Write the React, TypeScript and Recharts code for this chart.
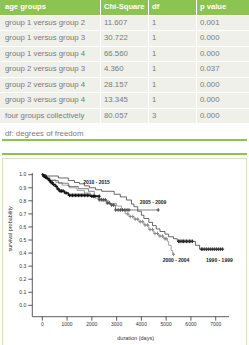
import React from 'react'
import {
  ComposedChart,
  Line,
  Scatter,
  XAxis,
  YAxis,
  ReferenceDot,
} from 'recharts'

// Log-rank comparisons between the four age groups
const tableHeader = ['age groups', 'Chi-Square', 'df', 'p value']
const comparisons = [
  'group 1 versus group 2',
  'group 1 versus group 3',
  'group 1 versus group 4',
  'group 2 versus group 3',
  'group 2 versus group 4',
  'group 3 versus group 4',
  'four groups collectively',
]
const chiSquare = ['11.607', '30.722', '66.560', '4.360', '28.157', '13.345', '80.057']
const degrees = ['1', '1', '1', '1', '1', '1', '3']
const pValues = ['0.001', '0.000', '0.000', '0.037', '0.000', '0.000', '0.000']

// Kaplan-Meier steps per era: [day, survival]
const steps1990: [number, number][] = [
  [0, 1.0], [150, 0.99], [650, 0.975], [1050, 0.955], [1300, 0.94], [1500, 0.93],
  [1700, 0.915], [1900, 0.9], [2150, 0.885], [2400, 0.873], [2900, 0.85], [3150, 0.83],
  [3400, 0.806], [3600, 0.775], [3700, 0.755], [3850, 0.72], [4000, 0.69], [4100, 0.665],
  [4300, 0.635], [4450, 0.61], [4600, 0.585], [4750, 0.565], [4950, 0.545], [5100, 0.525],
  [5300, 0.51], [5450, 0.49], [6180, 0.46], [6350, 0.43], [7280, 0.43],
]
const censored1990 = [
  5500, 5550, 5600, 5650, 5700, 5760, 5820, 5880, 5940, 6000, 6060,
  6420, 6480, 6560, 6640, 6720, 6800, 6880, 6960, 7040, 7120, 7200, 7280,
]

const steps2000: [number, number][] = [
  [0, 1.0], [100, 0.98], [300, 0.96], [550, 0.94], [800, 0.92], [1100, 0.9], [1400, 0.88],
  [1700, 0.86], [1950, 0.84], [2150, 0.82], [2400, 0.8], [2700, 0.78], [3000, 0.76],
  [3200, 0.73], [3350, 0.7], [3500, 0.68], [3700, 0.66], [3900, 0.64], [4100, 0.615],
  [4300, 0.58], [4500, 0.55], [4700, 0.53], [4900, 0.51], [5050, 0.49], [5100, 0.46],
  [5200, 0.42], [5260, 0.39], [5300, 0.39],
]
const censored2000 = [
  3450, 3550, 3650, 3750, 3850, 3950, 4050, 4150, 4250, 4350, 4450, 4550, 4650, 4750,
  4850, 4950, 5000, 5300,
]

const steps2005: [number, number][] = [
  [0, 1.0], [150, 0.97], [310, 0.955], [650, 0.935], [1050, 0.91], [1450, 0.893],
  [1860, 0.873], [2100, 0.84], [2260, 0.808], [2600, 0.783], [2750, 0.768], [2950, 0.73],
  [4680, 0.73],
]
const censored2005 = [
  2300, 2380, 2460, 2540, 2620, 2700, 2800, 2880, 2960, 3060, 3150, 3240, 3330, 3420, 3500, 4680,
]

const steps2010: [number, number][] = [
  [0, 1.0], [40, 0.99], [100, 0.98], [180, 0.97], [260, 0.955], [330, 0.94], [420, 0.925],
  [520, 0.91], [600, 0.89], [680, 0.875], [900, 0.86], [1050, 0.842], [1900, 0.842],
  [1950, 0.835], [2300, 0.835],
]
const censored2010 = [
  20, 60, 120, 160, 220, 300, 360, 400, 460, 560, 640, 720, 780, 840, 960, 1100, 1160,
  1220, 1280, 1340, 1400, 1460, 1520, 1580, 1640, 1700, 1760, 1820, 1880, 2000, 2060,
  2120, 2300,
]

const xTicks = [0, 1000, 2000, 3000, 4000, 5000, 6000, 7000]
const yTicks = [0, 0.1, 0.2, 0.3, 0.4, 0.5, 0.6, 0.7, 0.8, 0.9, 1.0]

// curve name labels: [text, day, survival]
const curveLabels: [string, number, number][] = [
  ['2010 - 2015', 2190, 0.946],
  ['2005 - 2009', 4470, 0.789],
  ['2000 - 2004', 5400, 0.342],
  ['1990 - 1999', 7150, 0.342],
]

const FONT = '"Liberation Sans", Arial, Helvetica, sans-serif'
const GREEN = '#8cc451'

const toPoints = (steps: [number, number][]) => steps.map(([t, s]) => ({ t, s }))

// survival level of a step curve at a given day
const levelAt = (steps: [number, number][], t: number) => {
  let s = steps[0][1]
  for (const [d, v] of steps) {
    if (d <= t) s = v
  }
  return s
}
const toMarks = (steps: [number, number][], days: number[]) =>
  days.map((t) => ({ t, s: levelAt(steps, t) }))

const series = [
  { name: '1990 - 1999', steps: steps1990, censored: censored1990, color: '#2a2a2a', width: 0.7 },
  { name: '2000 - 2004', steps: steps2000, censored: censored2000, color: '#8a8a8a', width: 0.8 },
  { name: '2005 - 2009', steps: steps2005, censored: censored2005, color: '#4a4a4a', width: 0.7 },
  { name: '2010 - 2015', steps: steps2010, censored: censored2010, color: '#111111', width: 1.3 },
]

function Plus(props: any) {
  const { cx, cy, color } = props
  if (cx == null || cy == null) return <g />
  return (
    <g stroke={color} strokeWidth={1}>
      <line x1={cx - 1.5} y1={cy} x2={cx + 1.5} y2={cy} />
      <line x1={cx} y1={cy - 1.8} x2={cx} y2={cy + 1.8} />
    </g>
  )
}

function StatsTable() {
  const cell = (text: string, key: string, header: boolean, first: boolean) => (
    <div
      key={key}
      style={{
        background: header ? GREEN : '#eef0e9',
        color: header ? '#fff' : '#7b7b7b',
        fontWeight: header ? 'bold' : 'normal',
        fontSize: header ? 7.6 : 7.8,
        lineHeight: '14.5px',
        paddingLeft: first ? 5 : 3,
        whiteSpace: 'nowrap',
        overflow: 'hidden',
      }}
    >
      {text}
    </div>
  )
  return (
    <div
      style={{
        position: 'absolute',
        left: 0,
        top: 0,
        width: 249,
        display: 'grid',
        gridTemplateColumns: '100px 47px 47px 52px',
        gridAutoRows: '14.5px',
        gap: 1,
        background: '#fff',
      }}
    >
      {tableHeader.map((h, i) => cell(h, `h${i}`, true, i === 0))}
      {comparisons.map((c, r) => [
        cell(c, `a${r}`, false, true),
        cell(chiSquare[r], `b${r}`, false, false),
        cell(degrees[r], `c${r}`, false, false),
        cell(pValues[r], `d${r}`, false, false),
      ])}
    </div>
  )
}

export default function App() {
  const tickStyle = { fontSize: 5, fill: '#333', fontFamily: FONT }
  return (
    <div
      style={{
        position: 'absolute',
        left: 0,
        top: 0,
        width: 249,
        height: 345,
        overflow: 'hidden',
        background: '#fff',
        fontFamily: FONT,
      }}
    >
      <StatsTable />
      <div style={{ position: 'absolute', left: 5, top: 128.5, fontSize: 7.8, color: '#7b7b7b' }}>
        df: degrees of freedom
      </div>
      <div style={{ position: 'absolute', left: 2, top: 138.5, width: 245, height: 2, background: GREEN }} />
      <div style={{ position: 'absolute', left: 2, top: 152.5, width: 245, height: 2, background: GREEN }} />
      <div
        style={{
          position: 'absolute',
          left: 2,
          top: 158,
          width: 243,
          height: 200,
          border: '1px solid #d3e6c1',
        }}
      />
      <div style={{ position: 'absolute', left: 0, top: 158 }}>
        <ComposedChart width={249} height={187} margin={{ top: 15, right: 20, bottom: 0, left: 0 }}>
          <XAxis
            type="number"
            dataKey="t"
            domain={[-404, 7537]}
            ticks={xTicks}
            allowDataOverflow
            height={28.3}
            tickSize={4}
            tickMargin={2}
            tick={tickStyle}
            stroke="#333"
            strokeWidth={0.8}
            label={{
              value: 'duration (days)',
              position: 'insideBottom',
              offset: 5,
              dx: 5,
              fontSize: 5.5,
              fill: '#333',
              fontFamily: FONT,
            }}
          />
          <YAxis
            type="number"
            dataKey="s"
            domain={[-0.087, 1.013]}
            ticks={yTicks}
            allowDataOverflow
            width={32.3}
            tickSize={4}
            tickMargin={2}
            tick={tickStyle}
            tickFormatter={(v: number) => v.toFixed(1)}
            stroke="#333"
            strokeWidth={0.8}
            label={{
              content: (p: any) => {
                const vb = p.viewBox
                const x = vb.x + 10
                const y = vb.y + vb.height / 2 - 16
                return (
                  <text
                    x={x}
                    y={y}
                    transform={`rotate(-90 ${x} ${y})`}
                    textAnchor="middle"
                    dominantBaseline="central"
                    fontSize={5.5}
                    fill="#333"
                    fontFamily={FONT}
                  >
                    survival probability
                  </text>
                )
              },
            }}
          />
          {series.map((s) => (
            <Line
              key={`line-${s.name}`}
              data={toPoints(s.steps)}
              dataKey="s"
              type="stepAfter"
              stroke={s.color}
              strokeWidth={s.width}
              dot={false}
              activeDot={false}
              isAnimationActive={false}
            />
          ))}
          {series.map((s) => (
            <Scatter
              key={`marks-${s.name}`}
              data={toMarks(s.steps, s.censored)}
              dataKey="s"
              shape={(p: any) => <Plus cx={p.cx} cy={p.cy} color={s.color} />}
              isAnimationActive={false}
            />
          ))}
          {curveLabels.map(([text, t, s]) => (
            <ReferenceDot
              key={text}
              x={t}
              y={s}
              r={0}
              fill="none"
              stroke="none"
              label={{
                value: text,
                position: 'center',
                fontSize: 5,
                fontWeight: 'bold',
                fill: '#222',
                fontFamily: FONT,
              }}
            />
          ))}
        </ComposedChart>
      </div>
    </div>
  )
}
